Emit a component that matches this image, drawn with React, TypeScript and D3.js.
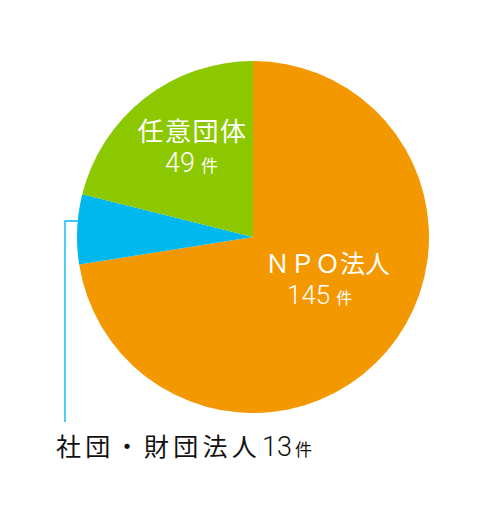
import * as d3 from "d3";

// Slice shares as drawn (percent of the circle), and the counts shown in labels
const categories = ["ＮＰＯ法人", "社団・財団法人", "任意団体"];
const sliceShares = [72.5, 6.4, 21.1];
const counts = [145, 13, 49];
const unit = "件";
const colors = ["#f39800", "#00b8ee", "#8cc800"];

const W = 500;
const H = 517;
const CX = 253;
const CY = 237;
const R = 176;
const FONT = "'Noto Sans CJK JP', 'Noto Sans', sans-serif";
const NUM_FONT = "Roboto, 'Noto Sans CJK JP', sans-serif";

interface Slice {
  name: string;
  share: number;
  count: number;
  color: string;
}

const slices: Slice[] = categories.map((name, i) => ({
  name,
  share: sliceShares[i],
  count: counts[i],
  color: colors[i],
}));

export default function App() {
  const pie = d3
    .pie<Slice>()
    .value((d) => d.share)
    .sort(null)
    .startAngle(0)
    .endAngle(2 * Math.PI);
  const arcs = pie(slices);
  const arc = d3.arc<d3.PieArcDatum<Slice>>().innerRadius(0).outerRadius(R);

  // leader line for the small slice goes out to the left edge of the pie
  const blue = arcs[1];
  const leaderY = CY - 16;
  const edgeX = CX - Math.sqrt(R * R - (leaderY - CY) ** 2) + 2;

  return (
    <svg
      width={W}
      height={H}
      viewBox={`0 0 ${W} ${H}`}
      style={{ position: "absolute", left: 0, top: 0, display: "block" }}
    >
      <rect width={W} height={H} fill="#fff" />
      <g transform={`translate(${CX},${CY})`}>
        {arcs.map((a) => (
          <path key={a.data.name} d={arc(a) ?? ""} fill={a.data.color} />
        ))}
      </g>

      {/* leader for 社団・財団法人 */}
      <path
        d={`M${edgeX},${leaderY} H65 V422`}
        fill="none"
        stroke={blue.data.color}
        strokeWidth={1.4}
      />

      {/* 任意団体 */}
      <text
        x={192.5}
        y={141}
        textAnchor="middle"
        fill="#fff"
        fontFamily={FONT}
        fontSize={26}
        letterSpacing={1.5}
      >
        {slices[2].name}
      </text>
      <text x={191.5} y={172} textAnchor="middle" fill="#fff" fontFamily={FONT}>
        <tspan fontSize={27} fontFamily={NUM_FONT} fontWeight={300}>
          {slices[2].count}
        </tspan>
        <tspan fontSize={17} dx={6}>{unit}</tspan>
      </text>

      {/* NPO法人 */}
      <text x={265} y={273} fill="#fff" fontFamily={FONT} fontSize={25}>
        {slices[0].name}
      </text>
      <text x={287} y={304} fill="#fff" fontFamily={FONT}>
        <tspan fontSize={26} fontFamily={NUM_FONT} fontWeight={300}>
          {slices[0].count}
        </tspan>
        <tspan fontSize={16} dx={6}>{unit}</tspan>
      </text>

      {/* 社団・財団法人 */}
      <text x={56} y={456} fill="#111" fontFamily={FONT}>
        <tspan fontSize={25} letterSpacing={4.3}>{slices[1].name}</tspan>
        <tspan fontSize={27} fontFamily={NUM_FONT} fontWeight={300} dx={1}>
          {slices[1].count}
        </tspan>
        <tspan fontSize={17} dx={3}>{unit}</tspan>
      </text>
    </svg>
  );
}
